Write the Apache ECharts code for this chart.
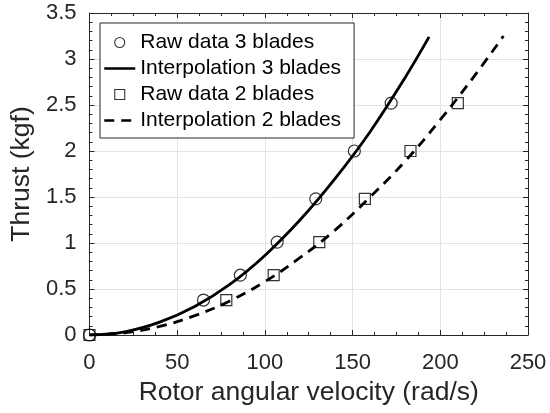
<!DOCTYPE html>
<html>
<head>
<meta charset="utf-8">
<script src="https://cdn.jsdelivr.net/npm/echarts@6/dist/echarts.min.js"></script>
<style>
  html, body { margin: 0; padding: 0; background: #fff; }
  #chart { width: 550px; height: 413px; }
</style>
</head>
<body>
<div id="chart"></div>
<script>
// Measured thrust vs rotor angular velocity
const omega3 = [0, 65, 86, 107, 129, 151, 172];
const thrust3 = [0, 0.38, 0.65, 1.01, 1.48, 2.0, 2.52];
const omega2 = [0, 78, 105, 131, 157, 183, 210];
const thrust2 = [0, 0.38, 0.65, 1.01, 1.48, 2.0, 2.52];

// Fitted curves
const fitOmega3 = [0, 20, 40, 60, 80, 100, 120, 140, 160, 180, 193.6];
const fitThrust3 = [0, 0.035, 0.14, 0.31, 0.55, 0.865, 1.25, 1.70, 2.21, 2.80, 3.24];
const fitOmega2 = [0, 20, 40, 60, 80, 100, 120, 140, 160, 180, 200, 220, 236];
const fitThrust2 = [0, 0.023, 0.093, 0.21, 0.37, 0.58, 0.84, 1.14, 1.50, 1.89, 2.34, 2.83, 3.25];

const seriesNames = ['Raw data 3 blades', 'Interpolation 3 blades', 'Raw data 2 blades', 'Interpolation 2 blades'];
const xTitle = 'Rotor angular velocity (rad/s)';
const yTitle = 'Thrust (kgf)';

const pairs = (xs, ys) => xs.map((x, i) => [x, ys[i]]);

const FONT = '"Liberation Sans", Arial, Helvetica, sans-serif';
const AXIS = '#262626';
const GRID = '#e3e3e3';
const CLEAR = 'rgba(0,0,0,0)';

const baseX = {
  type: 'value', min: 0, max: 250, interval: 50,
  axisLine: { show: true, onZero: false, lineStyle: { color: AXIS, width: 1 } },
  axisTick: { show: true, inside: true, length: 5, lineStyle: { color: AXIS } },
  minorTick: { show: true, splitNumber: 4, length: 3, lineStyle: { color: AXIS } }
};
const baseY = {
  type: 'value', min: 0, max: 3.5, interval: 0.5,
  axisLine: { show: true, onZero: false, lineStyle: { color: AXIS, width: 1 } },
  axisTick: { show: true, inside: true, length: 5, lineStyle: { color: AXIS } },
  minorTick: { show: true, splitNumber: 5, length: 3, lineStyle: { color: AXIS } }
};

// legend entries: hollow markers for raw data, bare lines for the fits
const legendData = [
  { name: seriesNames[0], icon: 'circle' },
  { name: seriesNames[1], itemStyle: { color: CLEAR, borderColor: CLEAR, borderWidth: 0 } },
  { name: seriesNames[2], icon: 'path://M0,0H10V10H0Z' },
  { name: seriesNames[3], itemStyle: { color: CLEAR, borderColor: CLEAR, borderWidth: 0 } }
];

const chart = echarts.init(document.getElementById('chart'), null, { renderer: 'canvas' });
chart.setOption({
  animation: false,
  backgroundColor: '#fff',
  textStyle: { fontFamily: FONT },
  grid: { left: 89, top: 13, width: 439, height: 322, containLabel: false },
  xAxis: [
    Object.assign({}, baseX, {
      position: 'bottom',
      name: xTitle, nameLocation: 'middle', nameGap: 42,
      nameTextStyle: { fontSize: 26.5, color: '#262626', fontFamily: FONT },
      axisLabel: { fontSize: 22, color: '#262626', margin: 17, fontFamily: FONT },
      splitLine: { show: true, lineStyle: { color: GRID, width: 1 } }
    }),
    Object.assign({}, baseX, {
      position: 'top',
      axisLabel: { show: false },
      splitLine: { show: false }
    })
  ],
  yAxis: [
    Object.assign({}, baseY, {
      position: 'left',
      name: yTitle, nameLocation: 'middle', nameGap: 53,
      nameTextStyle: { fontSize: 26.5, color: '#262626', fontFamily: FONT },
      axisLabel: { fontSize: 22, color: '#262626', margin: 13, fontFamily: FONT },
      splitLine: { show: true, lineStyle: { color: GRID, width: 1 } }
    }),
    Object.assign({}, baseY, {
      position: 'right',
      axisLabel: { show: false },
      splitLine: { show: false }
    })
  ],
  legend: {
    orient: 'vertical',
    left: 100, top: 23,
    padding: [9, 13, 7, 3],
    itemGap: 5,
    itemWidth: 31, itemHeight: 10,
    symbolKeepAspect: true,
    backgroundColor: '#fff',
    borderColor: AXIS, borderWidth: 1,
    textStyle: { fontSize: 21, color: '#000', fontFamily: FONT },
    itemStyle: { borderWidth: 1.1 },
    lineStyle: { width: 2.5 },
    data: legendData
  },
  series: [
    {
      name: seriesNames[1], type: 'line', smooth: 0.4, symbol: 'none',
      xAxisIndex: 0, yAxisIndex: 0,
      lineStyle: { color: '#000', width: 2.8, type: 'solid' },
      itemStyle: { color: '#000' },
      data: pairs(fitOmega3, fitThrust3), z: 2
    },
    {
      name: seriesNames[3], type: 'line', smooth: 0.4, symbol: 'none',
      xAxisIndex: 0, yAxisIndex: 0,
      lineStyle: { color: '#000', width: 2.8, type: [10, 7], cap: 'butt' },
      itemStyle: { color: '#000' },
      data: pairs(fitOmega2, fitThrust2), z: 2
    },
    {
      name: seriesNames[0], type: 'scatter', symbol: 'circle', symbolSize: 12,
      xAxisIndex: 0, yAxisIndex: 0,
      itemStyle: { color: CLEAR, borderColor: '#000', borderWidth: 1.2 },
      data: pairs(omega3, thrust3), z: 3
    },
    {
      name: seriesNames[2], type: 'scatter', symbol: 'rect', symbolSize: 11,
      xAxisIndex: 0, yAxisIndex: 0,
      itemStyle: { color: CLEAR, borderColor: '#000', borderWidth: 1.2 },
      data: pairs(omega2, thrust2), z: 3
    }
  ]
});
</script>
</body>
</html>
